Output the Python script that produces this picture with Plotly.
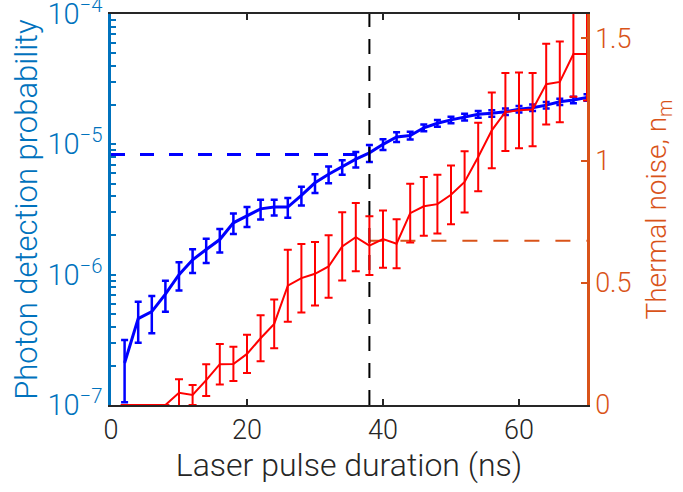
import plotly.graph_objects as go

# ---- data ----
pulse_ns = [2, 4, 6, 8, 10, 12, 14, 16, 18, 20, 22, 24, 26, 28, 30, 32, 34, 36,
            38, 40, 42, 44, 46, 48, 50, 52, 54, 56, 58, 60, 62, 64, 66, 68, 70]

detect_prob = [2.1e-7, 4.6e-7, 5.2e-7, 7.1e-7, 1.0e-6, 1.3e-6, 1.56e-6, 1.86e-6,
               2.5e-6, 2.81e-6, 3.2e-6, 3.3e-6, 3.3e-6, 4.06e-6, 5.07e-6, 5.9e-6,
               6.7e-6, 7.7e-6, 8.6e-6, 1.0e-5, 1.14e-5, 1.17e-5, 1.34e-5, 1.45e-5,
               1.54e-5, 1.62e-5, 1.70e-5, 1.73e-5, 1.78e-5, 1.86e-5, 1.91e-5,
               2.0e-5, 2.12e-5, 2.19e-5, 2.29e-5]

detect_err = [1.05e-7, 1.6e-7, 1.65e-7, 1.9e-7, 2.45e-7, 2.7e-7, 3.3e-7, 3.8e-7,
              4.5e-7, 4.9e-7, 5.5e-7, 4.5e-7, 5.7e-7, 6.6e-7, 8.3e-7, 8.7e-7,
              8.6e-7, 1.05e-6, 1.27e-6, 0.95e-6, 1.0e-6, 0.8e-6, 0.8e-6, 0.85e-6,
              0.9e-6, 0.95e-6, 1.0e-6, 1.0e-6, 1.0e-6, 1.05e-6, 1.1e-6,
              1.15e-6, 1.2e-6, 1.25e-6, 1.3e-6]

thermal_n = [0, 0, 0, 0, 0.05, 0.041, 0.102, 0.167, 0.168, 0.209, 0.273, 0.332,
             0.488, 0.519, 0.537, 0.567, 0.649, 0.687, 0.652, 0.679, 0.660,
             0.785, 0.813, 0.822, 0.860, 0.913, 1.015, 1.124, 1.199, 1.206,
             1.209, 1.313, 1.322, 1.436, 1.436]

thermal_err = [0, 0, 0, 0, 0.055, 0.041, 0.065, 0.083, 0.07, 0.078, 0.094, 0.10,
               0.147, 0.14, 0.13, 0.128, 0.14, 0.14, 0.12, 0.117, 0.10,
               0.12, 0.12, 0.12, 0.12, 0.125, 0.14, 0.155, 0.16, 0.155,
               0.15, 0.165, 0.165, 0.175, 0.19]

cut_ns = 38
cut_prob = 8.37e-6
cut_noise = 0.672

x_ticks = [0, 20, 40, 60]
y_exponents = [-7, -6, -5, -4]
y2_ticks = [0, 0.5, 1, 1.5]
y2_ticklabels = ["0", "0.5", "1", "1.5"]

# log-axis ticks: labelled decades plus unlabelled 2..9 sub-ticks
y_tickvals, y_ticktext = [], []
for e in y_exponents:
    y_tickvals.append(10.0 ** e)
    y_ticktext.append("10<sup>\u2212%d</sup>" % (-e))
    if e < y_exponents[-1]:
        for m in range(2, 10):
            y_tickvals.append(m * 10.0 ** e)
            y_ticktext.append("")

# ---- style ----
FONT = "Roboto"
BLUE_AX = "#0072BD"
ORANGE = "#D95319"
AXC = "#262626"

fig = go.Figure()

# reference dashed lines
fig.add_trace(go.Scatter(x=[0, cut_ns], y=[cut_prob, cut_prob], mode="lines",
                         line=dict(color="#0000FF", width=3, dash="14px,15px"),
                         yaxis="y", showlegend=False, hoverinfo="skip"))
fig.add_trace(go.Scatter(x=[cut_ns, 70], y=[cut_noise, cut_noise], mode="lines",
                         line=dict(color=ORANGE, width=2, dash="15px,16px"),
                         yaxis="y2", showlegend=False, hoverinfo="skip"))
fig.add_trace(go.Scatter(x=[cut_ns, cut_ns], y=[0, 1.6], mode="lines",
                         line=dict(color="black", width=2, dash="15px,12px"),
                         yaxis="y2", showlegend=False, hoverinfo="skip"))

# detection probability
fig.add_trace(go.Scatter(x=pulse_ns, y=detect_prob, mode="lines",
                         line=dict(color="#0000FF", width=3),
                         error_y=dict(type="data", array=detect_err, color="#0000FF",
                                      thickness=2.5, width=3.5),
                         yaxis="y", showlegend=False))

# thermal noise
fig.add_trace(go.Scatter(x=pulse_ns, y=thermal_n, mode="lines",
                         line=dict(color="#FF0000", width=2),
                         error_y=dict(type="data", array=thermal_err, color="#FF0000",
                                      thickness=2, width=4),
                         yaxis="y2", showlegend=False))

fig.update_layout(
    width=683, height=492,
    margin=dict(l=111, r=96, t=14, b=87, autoexpand=False),
    paper_bgcolor="white", plot_bgcolor="white",
    font=dict(family=FONT, size=27, color=AXC, weight=300),
    xaxis=dict(range=[0, 70], tickvals=x_ticks, ticks="inside", ticklen=6,
               tickwidth=1.5, tickcolor=AXC, showline=True, linecolor=AXC,
               linewidth=2, mirror="ticks", showgrid=False, zeroline=False,
               automargin=False,
               tickfont=dict(size=27, color=AXC),
               title=dict(text="Laser pulse duration (ns)", font=dict(size=32, color=AXC),
                          standoff=4)),
    yaxis=dict(type="log", range=[-7, -4], tickvals=y_tickvals, ticktext=y_ticktext,
               ticklabeloverflow="allow", automargin=False,
               ticks="inside", ticklen=5, tickwidth=2, tickcolor=BLUE_AX,
               showline=True, linecolor=BLUE_AX, linewidth=2.5, showgrid=False,
               zeroline=False,
               tickfont=dict(size=29, color=BLUE_AX),
               title=dict(text="Photon detection probability",
                          font=dict(size=31, color=BLUE_AX), standoff=1)),
    yaxis2=dict(overlaying="y", side="right", range=[0, 1.6], tickvals=y2_ticks,
                ticktext=y2_ticklabels, ticks="inside", ticklen=6, tickwidth=2,
                automargin=False,
                tickfont=dict(size=27, color=ORANGE),
                tickcolor=ORANGE, showline=True, linecolor=ORANGE, linewidth=2.5,
                showgrid=False, zeroline=False,
                title=dict(text="Thermal noise, n<sub>m</sub>",
                           font=dict(size=28, color=ORANGE), standoff=16)),
)

fig.write_html("out.html")
